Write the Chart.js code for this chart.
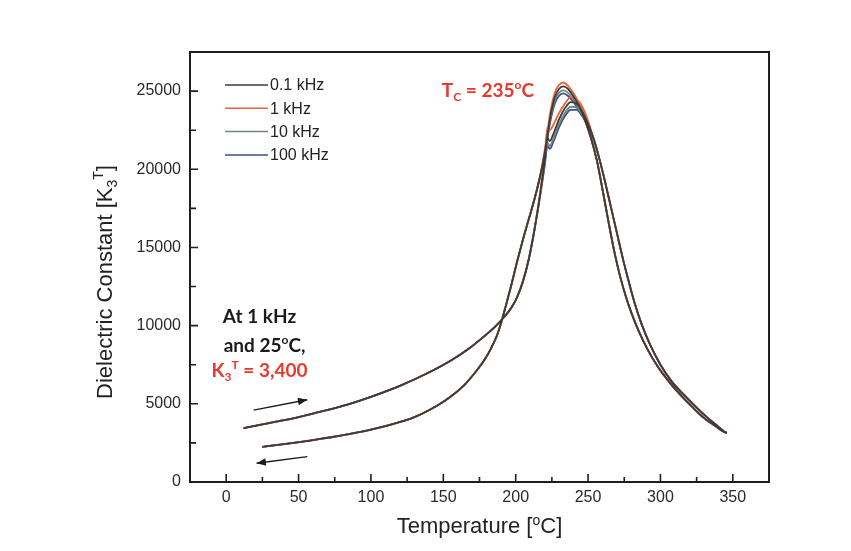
<!DOCTYPE html>
<html>
<head>
<meta charset="utf-8">
<script src="https://cdn.jsdelivr.net/npm/chart.js@4.4.1/dist/chart.umd.min.js"></script>
<style>
  html, body { margin: 0; padding: 0; background: #fff; }
  #wrap { width: 851px; height: 551px; }
</style>
</head>
<body>
<div id="wrap"><canvas id="myChart" width="851" height="551"></canvas></div>
<script>
// heating run (12 -> 346 C)
let heatT = [12, 25, 40, 60, 80, 100, 120, 140, 155, 168, 178, 186, 192, 197, 201, 205, 209, 213, 217, 220,
  222, 223.5, 226, 230, 234, 238, 242, 246, 250, 254, 258, 262, 266, 270, 274, 278, 282, 287, 293, 300,
  308, 316, 324, 332, 339, 346];
let heatK01 = [3450, 3680, 3950, 4380, 4850, 5450, 6150, 7000, 7750, 8550, 9300, 9950, 10550, 11150, 11830, 12830, 14230, 16150, 18470, 20500,
  22000, 21800, 22250, 23200, 23900, 24300, 24200, 23700, 22900, 21900, 20600, 19100, 17500, 15900, 14300, 12850, 11500, 10100, 8750, 7500,
  6400, 5600, 4850, 4150, 3620, 3150];
let heatK1 = [3450, 3680, 3950, 4380, 4850, 5450, 6150, 7000, 7750, 8550, 9300, 9950, 10550, 11150, 11830, 12830, 14230, 16150, 18600, 20900,
  22700, 22500, 22850, 23600, 24200, 24600, 24500, 24000, 23100, 21900, 20600, 19100, 17500, 15900, 14300, 12850, 11500, 10100, 8750, 7500,
  6400, 5600, 4850, 4150, 3620, 3150];
let heatK10 = [3450, 3680, 3950, 4380, 4850, 5450, 6150, 7000, 7750, 8550, 9300, 9950, 10550, 11150, 11830, 12830, 14230, 16150, 18400, 20300,
  21700, 21500, 21950, 22900, 23600, 24000, 23950, 23500, 22800, 21900, 20600, 19100, 17500, 15900, 14300, 12850, 11500, 10100, 8750, 7500,
  6400, 5600, 4850, 4150, 3620, 3150];
let heatK100 = [3450, 3680, 3950, 4380, 4850, 5450, 6150, 7000, 7750, 8550, 9300, 9950, 10550, 11150, 11830, 12830, 14230, 16150, 18350, 20200,
  21500, 21300, 21750, 22700, 23400, 23800, 23800, 23400, 22700, 21900, 20600, 19100, 17500, 15900, 14300, 12850, 11500, 10100, 8750, 7500,
  6400, 5600, 4850, 4150, 3620, 3150];

// cooling run (346 -> 25 C)
let coolT = [346, 338, 330, 322, 314, 306, 298, 291, 285, 280, 276, 272, 268, 264, 260, 256, 252, 248, 244, 240,
  236, 233, 230, 227, 224, 222, 220, 217, 213, 209, 205, 201, 197, 193, 190, 187, 183, 178, 172, 165,
  155, 145, 130, 115, 100, 80, 60, 40, 25];
let coolK01 = [3150, 3580, 4100, 4800, 5550, 6400, 7400, 8500, 9650, 10800, 11900, 13200, 14800, 16700, 18700, 20600, 22000, 23100, 24000, 24650,
  25150, 25300, 25150, 24600, 23400, 22200, 21000, 19600, 18100, 16800, 15500, 14100, 12600, 11200, 10200, 9350, 8550, 7750, 7000, 6250,
  5450, 4850, 4150, 3700, 3350, 2980, 2680, 2420, 2250];
let coolK1 = [3150, 3580, 4100, 4800, 5550, 6400, 7400, 8500, 9650, 10800, 11900, 13200, 14800, 16700, 18700, 20600, 22000, 23100, 24200, 24850,
  25350, 25550, 25400, 24900, 23700, 22500, 21200, 19600, 18100, 16800, 15500, 14100, 12600, 11200, 10200, 9350, 8550, 7750, 7000, 6250,
  5450, 4850, 4150, 3700, 3350, 2980, 2680, 2420, 2250];
let coolK10 = [3150, 3580, 4100, 4800, 5550, 6400, 7400, 8500, 9650, 10800, 11900, 13200, 14800, 16700, 18700, 20600, 22000, 23100, 23850, 24450,
  24900, 25050, 24900, 24400, 23250, 22100, 20950, 19600, 18100, 16800, 15500, 14100, 12600, 11200, 10200, 9350, 8550, 7750, 7000, 6250,
  5450, 4850, 4150, 3700, 3350, 2980, 2680, 2420, 2250];
let coolK100 = [3150, 3580, 4100, 4800, 5550, 6400, 7400, 8500, 9650, 10800, 11900, 13200, 14800, 16700, 18700, 20600, 22000, 23100, 23700, 24300,
  24700, 24850, 24700, 24200, 23100, 22000, 20900, 19600, 18100, 16800, 15500, 14100, 12600, 11200, 10200, 9350, 8550, 7750, 7000, 6250,
  5450, 4850, 4150, 3700, 3350, 2980, 2680, 2420, 2250];

let freqLabels = ['0.1 kHz', '1 kHz', '10 kHz', '100 kHz'];
let freqColors = ['#3b3b3b', '#e8643f', '#71877a', '#3d4c8a'];
let xTicks = [0, 50, 100, 150, 200, 250, 300, 350];
let yTicks = [0, 5000, 10000, 15000, 20000, 25000];

// heating followed by cooling -> one loop per frequency
function loop(heat, cool){
    let pts = heatT.map((t, i) => ({x: t, y: heat[i]}));
    return pts.concat(coolT.map((t, i) => ({x: t, y: cool[i]})));
}
let loops = [loop(heatK01, coolK01), loop(heatK1, coolK1), loop(heatK10, coolK10), loop(heatK100, coolK100)];

let tickFont = {family: "'Liberation Sans', Arial, sans-serif", size: 16};

// draws text made of pieces (normal / sub / sup) starting at x
function drawParts(ctx, x, y, parts, align){
    let w = 0;
    parts.forEach(p => { ctx.font = p.font; w += ctx.measureText(p.t).width; });
    let cx = align === 'center' ? x - w / 2 : x;
    ctx.textAlign = 'left';
    ctx.textBaseline = 'alphabetic';
    parts.forEach(p => {
        ctx.font = p.font;
        ctx.fillStyle = p.color;
        ctx.fillText(p.t, cx, y + (p.dy || 0));
        cx += ctx.measureText(p.t).width;
    });
}

function arrow(ctx, x1, y1, x2, y2){
    let ang = Math.atan2(y2 - y1, x2 - x1);
    ctx.beginPath();
    ctx.moveTo(x1, y1);
    ctx.lineTo(x2, y2);
    ctx.stroke();
    ctx.beginPath();
    ctx.moveTo(x2, y2);
    ctx.lineTo(x2 - 10 * Math.cos(ang - 0.38), y2 - 10 * Math.sin(ang - 0.38));
    ctx.lineTo(x2 - 10 * Math.cos(ang + 0.38), y2 - 10 * Math.sin(ang + 0.38));
    ctx.closePath();
    ctx.fill();
}

let decor = {
    id: 'decor',
    afterDraw(chart){
        let ctx = chart.ctx, a = chart.chartArea, xs = chart.scales.x, ys = chart.scales.y;
        ctx.save();
        // frame
        ctx.strokeStyle = '#1e1e1e';
        ctx.lineWidth = 2;
        ctx.strokeRect(a.left, a.top, a.right - a.left, a.bottom - a.top);
        // inward ticks
        ctx.lineWidth = 1.6;
        ctx.beginPath();
        xs.ticks.forEach(t => {
            let px = xs.getPixelForValue(t.value);
            ctx.moveTo(px, a.bottom); ctx.lineTo(px, a.bottom - 8);
            let pm = xs.getPixelForValue(t.value + 25);
            if (t.value + 25 < xs.max) { ctx.moveTo(pm, a.bottom); ctx.lineTo(pm, a.bottom - 5); }
        });
        ys.ticks.forEach(t => {
            let py = ys.getPixelForValue(t.value);
            ctx.moveTo(a.left, py); ctx.lineTo(a.left + 8, py);
            let pm = ys.getPixelForValue(t.value + 2500);
            if (t.value + 2500 < ys.max) { ctx.moveTo(a.left, pm); ctx.lineTo(a.left + 6, pm); }
        });
        ctx.stroke();

        // legend inside the plot
        chart.data.datasets.forEach((ds, i) => {
            let ly = a.top + 33 + i * 23.3;
            ctx.strokeStyle = ds.borderColor;
            ctx.lineWidth = 1.5;
            ctx.beginPath();
            ctx.moveTo(a.left + 35, ly); ctx.lineTo(a.left + 78, ly);
            ctx.stroke();
            ctx.fillStyle = '#222';
            ctx.font = "16px 'Liberation Sans', Arial, sans-serif";
            ctx.textAlign = 'left';
            ctx.textBaseline = 'middle';
            ctx.fillText(ds.label, a.left + 80, ly + 1);
        });

        // annotations placed in data units
        let red = '#e8392c', blk = '#1a1a1a';
        let b19 = "bold 19px Lato, 'Open Sans', sans-serif";
        let b12 = "bold 12px Lato, 'Open Sans', sans-serif";
        drawParts(ctx, xs.getPixelForValue(149), ys.getPixelForValue(24650), [
            {t: 'T', font: b19, color: red},
            {t: 'C', font: b12, color: red, dy: 4},
            {t: ' = 235', font: b19, color: red},
            {t: 'o', font: b12, color: red, dy: -8},
            {t: 'C', font: b19, color: red}
        ], 'left');
        drawParts(ctx, xs.getPixelForValue(23), ys.getPixelForValue(10200), [
            {t: 'At 1 kHz', font: b19, color: blk}
        ], 'center');
        drawParts(ctx, xs.getPixelForValue(26.5), ys.getPixelForValue(8330), [
            {t: 'and 25', font: b19, color: blk},
            {t: 'o', font: b12, color: blk, dy: -8},
            {t: 'C,', font: b19, color: blk}
        ], 'center');
        drawParts(ctx, xs.getPixelForValue(23), ys.getPixelForValue(6730), [
            {t: 'K', font: b19, color: red},
            {t: '3', font: b12, color: red, dy: 4},
            {t: 'T', font: b12, color: red, dy: -8},
            {t: ' = 3,400', font: b19, color: red}
        ], 'center');

        // heating / cooling arrows
        ctx.strokeStyle = blk; ctx.fillStyle = blk; ctx.lineWidth = 1.4;
        arrow(ctx, xs.getPixelForValue(19), ys.getPixelForValue(4600), xs.getPixelForValue(56), ys.getPixelForValue(5260));
        arrow(ctx, xs.getPixelForValue(56), ys.getPixelForValue(1620), xs.getPixelForValue(21), ys.getPixelForValue(1200));

        // axis titles
        let tf = "22px 'Liberation Sans', Arial, sans-serif";
        let tfs = "14px 'Liberation Sans', Arial, sans-serif";
        drawParts(ctx, (a.left + a.right) / 2, 533, [
            {t: 'Temperature [', font: tf, color: '#222'},
            {t: 'o', font: tfs, color: '#222', dy: -8},
            {t: 'C]', font: tf, color: '#222'}
        ], 'center');
        ctx.translate(112, (a.top + a.bottom) / 2 + 15);
        ctx.rotate(-Math.PI / 2);
        drawParts(ctx, 0, 0, [
            {t: 'Dielectric Constant [K', font: tf, color: '#222'},
            {t: '3', font: tfs, color: '#222', dy: 5},
            {t: 'T', font: tfs, color: '#222', dy: -9},
            {t: ']', font: tf, color: '#222'}
        ], 'center');
        ctx.restore();
    }
};

let ctx = document.getElementById('myChart').getContext('2d');
let chart = new Chart(ctx, {
    type: 'scatter',
    data: {
        datasets: loops.map((pts, i) => ({
            label: freqLabels[i],
            data: pts,
            showLine: true,
            borderColor: freqColors[i],
            backgroundColor: freqColors[i],
            borderWidth: 1.8,
            pointRadius: 0,
            cubicInterpolationMode: 'monotone'
        }))
    },
    options: {
        responsive: false,
        animation: false,
        devicePixelRatio: 1,
        layout: {padding: {top: 52, right: 82, left: 0, bottom: 0}},
        plugins: {legend: {display: false}, tooltip: {enabled: false}},
        scales: {
            x: {
                type: 'linear', min: -25, max: 375,
                afterBuildTicks: s => { s.ticks = xTicks.map(v => ({value: v})); },
                afterFit: s => { s.height = 69; },
                grid: {display: false, drawTicks: false},
                border: {display: false},
                ticks: {font: tickFont, color: '#2a2a2a', padding: 6}
            },
            y: {
                type: 'linear', min: 0, max: 27500,
                afterBuildTicks: s => { s.ticks = yTicks.map(v => ({value: v})); },
                afterFit: s => { s.width = 190; },
                grid: {display: false, drawTicks: false},
                border: {display: false},
                ticks: {font: tickFont, color: '#2a2a2a', padding: 9, callback: v => String(v)}
            }
        }
    },
    plugins: [decor]
});
</script>
</body>
</html>
